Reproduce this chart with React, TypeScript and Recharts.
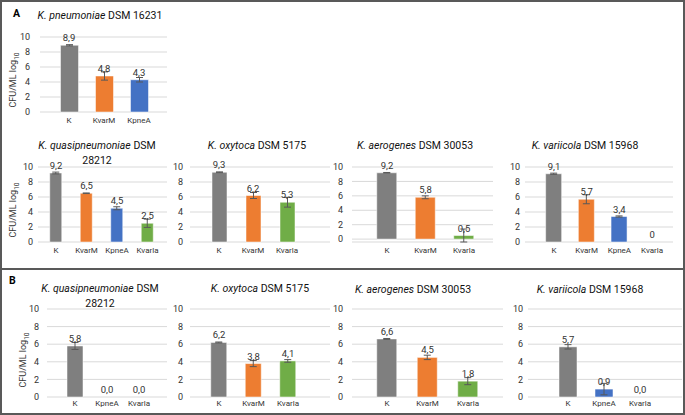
import React from "react";
import {
  ComposedChart,
  Bar,
  Line,
  XAxis,
  YAxis,
  CartesianGrid,
  Cell,
  ErrorBar,
  LabelList,
} from "recharts";

// strain colours (Excel defaults)
const strainColors: Record<string, string> = {
  K: "#7f7f7f",
  KvarM: "#ed7d31",
  KpneA: "#4472c4",
  Kvarla: "#70ad47",
};
const yTicks = [0, 2, 4, 6, 8, 10];

// panel A
const aPneuCats = ["K", "KvarM", "KpneA"];
const aPneuVals = [8.9, 4.8, 4.3];
const aPneuErr = [0.08, 0.55, 0.3];
const aPneuLabels = ["8,9", "4,8", "4,3"];

const aQuasiCats = ["K", "KvarM", "KpneA", "Kvarla"];
const aQuasiVals = [9.2, 6.5, 4.5, 2.5];
const aQuasiErr = [0.12, 0.04, 0.2, 0.55];
const aQuasiLabels = ["9,2", "6,5", "4,5", "2,5"];

const aOxyCats = ["K", "KvarM", "Kvarla"];
const aOxyVals = [9.3, 6.2, 5.3];
const aOxyErr = [0.05, 0.4, 0.65];
const aOxyLabels = ["9,3", "6,2", "5,3"];

const aAeroCats = ["K", "KvarM", "Kvarla"];
const aAeroVals = [9.2, 5.8, 0.5];
const aAeroErr = [0.04, 0.2, 0.9];
const aAeroLabels = ["9,2", "5,8", "0,5"];

const aVariCats = ["K", "KvarM", "KpneA", "Kvarla"];
const aVariVals = [9.1, 5.7, 3.4, 0];
const aVariErr = [0.08, 0.6, 0.08, 0];
const aVariLabels = ["9,1", "5,7", "3,4", "0"];

// panel B
const bQuasiCats = ["K", "KpneA", "Kvarla"];
const bQuasiVals = [5.8, 0, 0];
const bQuasiErr = [0.4, 0, 0];
const bQuasiLabels = ["5,8", "0,0", "0,0"];

const bOxyCats = ["K", "KvarM", "Kvarla"];
const bOxyVals = [6.2, 3.8, 4.1];
const bOxyErr = [0.05, 0.35, 0.15];
const bOxyLabels = ["6,2", "3,8", "4,1"];

const bAeroCats = ["K", "KvarM", "Kvarla"];
const bAeroVals = [6.6, 4.5, 1.8];
const bAeroErr = [0.05, 0.25, 0.4];
const bAeroLabels = ["6,6", "4,5", "1,8"];

const bVariCats = ["K", "KpneA", "Kvarla"];
const bVariVals = [5.7, 0.9, 0];
const bVariErr = [0.25, 0.65, 0];
const bVariLabels = ["5,7", "0,9", "0,0"];

const FONT = "Roboto, sans-serif";
const TEXT = "#333333";

function buildRows(cats: string[], vals: number[], errs: number[], labels: string[]) {
  return cats.map((c, i) => ({ name: c, value: vals[i], err: errs[i], label: labels[i] }));
}

type Layout = {
  x0: number; // gridline start
  x1: number; // gridline end
  yTop: number; // y of 10
  yBot: number; // y of 0
  tickRight: number;
  c0: number; // first category centre
  step: number;
  barSize: number;
  labelGap: number;
};

function SmallChart({ rows, lay }: { rows: any[]; lay: Layout }) {
  const yw = 30;
  const top = 12;
  const xh = 18;
  const n = rows.length;
  const pl = Math.max(0, lay.c0 - lay.step / 2 - lay.x0);
  const pr = Math.max(0, lay.x1 - (lay.x0 + pl + n * lay.step));
  const w = yw + (lay.x1 - lay.x0);
  const h = top + (lay.yBot - lay.yTop) + xh;
  return (
    <div style={{ position: "absolute", left: lay.x0 - yw, top: lay.yTop - top }}>
      <ComposedChart
        width={w}
        height={h}
        data={rows}
        margin={{ top, right: 0, bottom: 0, left: 0 }}
        barCategoryGap={0}
      >
        <CartesianGrid vertical={false} stroke="#d9d9d9" />
        <XAxis
          dataKey="name"
          axisLine={false}
          tickLine={false}
          tickSize={0}
          tickMargin={lay.labelGap}
          height={xh}
          interval={0}
          padding={{ left: pl, right: pr }}
          tick={{ fontSize: 8, fill: TEXT, fontFamily: FONT }}
        />
        <YAxis
          width={yw}
          domain={[0, 10]}
          ticks={yTicks}
          interval={0}
          axisLine={false}
          tickLine={false}
          tickSize={0}
          tickMargin={lay.x0 - lay.tickRight}
          tick={{ fontSize: 9, fill: TEXT, fontFamily: FONT }}
        />
        <Bar dataKey="value" barSize={lay.barSize} isAnimationActive={false}>
          {rows.map((r) => (
            <Cell key={r.name} fill={strainColors[r.name]} stroke="#ffffff" strokeOpacity={0.5} />
          ))}
          <ErrorBar dataKey="err" width={3.5} stroke="#595959" strokeWidth={1} direction="y" />
        </Bar>
        {/* invisible line only carries the value labels, so zero bars get one too */}
        <Line
          dataKey="value"
          stroke="none"
          dot={false}
          activeDot={false}
          isAnimationActive={false}
        >
          <LabelList
            dataKey="label"
            position="top"
            offset={4}
            style={{ fontSize: 9.5, fill: TEXT, fontFamily: FONT }}
          />
        </Line>
      </ComposedChart>
    </div>
  );
}

function Title({ cx, y, species, rest, line2 }: { cx: number; y: number; species: string; rest: string; line2?: string }) {
  return (
    <div
      style={{
        position: "absolute",
        left: cx - 100,
        top: y - 7.5,
        width: 200,
        textAlign: "center",
        fontFamily: FONT,
        fontSize: 10.5,
        lineHeight: "15px",
        color: "#111",
        whiteSpace: "nowrap",
      }}
    >
      <i>{species}</i> {rest}
      {line2 ? <div>{line2}</div> : null}
    </div>
  );
}

function YLabel({ cx, cy }: { cx: number; cy: number }) {
  return (
    <div
      style={{
        position: "absolute",
        left: cx - 50,
        top: cy - 7,
        width: 100,
        height: 14,
        textAlign: "center",
        transform: "rotate(-90deg)",
        fontFamily: FONT,
        fontSize: 9,
        lineHeight: "14px",
        color: TEXT,
        whiteSpace: "nowrap",
      }}
    >
      CFU/ML log<sub style={{ fontSize: 6.5 }}>10</sub>
    </div>
  );
}

export default function App() {
  return (
    <div
      style={{
        position: "absolute",
        left: 0,
        top: 0,
        width: 685,
        height: 415,
        background: "#fff",
        overflow: "hidden",
      }}
    >
      <div
        style={{
          position: "absolute",
          left: 0,
          top: 0,
          width: 681,
          height: 411,
          border: "2px solid #595959",
        }}
      />
      <div style={{ position: "absolute", left: 0, top: 268, width: 685, height: 2, background: "#595959" }} />

      <div style={{ position: "absolute", left: 13, top: 8, fontFamily: FONT, fontWeight: 700, fontSize: 10.5, lineHeight: "12px" }}>A</div>
      <div style={{ position: "absolute", left: 9, top: 275, fontFamily: FONT, fontWeight: 700, fontSize: 10.5, lineHeight: "12px" }}>B</div>

      <Title cx={100} y={15} species="K. pneumoniae" rest="DSM 16231" />
      <Title cx={97} y={145} species="K. quasipneumoniae" rest="DSM" line2="28212" />
      <Title cx={257} y={145} species="K. oxytoca" rest="DSM 5175" />
      <Title cx={415} y={145} species="K. aerogenes" rest="DSM 30053" />
      <Title cx={585} y={145} species="K. variicola" rest="DSM 15968" />

      <Title cx={100} y={288} species="K. quasipneumoniae" rest="DSM" line2="28212" />
      <Title cx={260} y={288} species="K. oxytoca" rest="DSM 5175" />
      <Title cx={413} y={289} species="K. aerogenes" rest="DSM 30053" />
      <Title cx={590} y={289} species="K. variicola" rest="DSM 15968" />

      <YLabel cx={13} cy={80} />
      <YLabel cx={13} cy={210} />
      <YLabel cx={23} cy={360} />

      <SmallChart
        rows={buildRows(aPneuCats, aPneuVals, aPneuErr, aPneuLabels)}
        lay={{ x0: 40, x1: 167, yTop: 37, yBot: 112, tickRight: 30, c0: 69, step: 35, barSize: 18, labelGap: 5 }}
      />
      <SmallChart
        rows={buildRows(aQuasiCats, aQuasiVals, aQuasiErr, aQuasiLabels)}
        lay={{ x0: 38, x1: 167, yTop: 167, yBot: 242, tickRight: 33, c0: 56, step: 30.5, barSize: 12, labelGap: 5 }}
      />
      <SmallChart
        rows={buildRows(aOxyCats, aOxyVals, aOxyErr, aOxyLabels)}
        lay={{ x0: 190, x1: 330, yTop: 167, yBot: 242, tickRight: 183, c0: 219, step: 34, barSize: 15, labelGap: 5 }}
      />
      <SmallChart
        rows={buildRows(aAeroCats, aAeroVals, aAeroErr, aAeroLabels)}
        lay={{ x0: 352, x1: 493, yTop: 167, yBot: 242, tickRight: 343, c0: 387, step: 38.5, barSize: 20, labelGap: 5 }}
      />
      <SmallChart
        rows={buildRows(aVariCats, aVariVals, aVariErr, aVariLabels)}
        lay={{ x0: 525, x1: 673, yTop: 167, yBot: 242, tickRight: 520, c0: 554, step: 32.7, barSize: 16, labelGap: 5 }}
      />

      <SmallChart
        rows={buildRows(bQuasiCats, bQuasiVals, bQuasiErr, bQuasiLabels)}
        lay={{ x0: 47, x1: 167, yTop: 309, yBot: 397, tickRight: 39, c0: 75, step: 32, barSize: 16, labelGap: 3 }}
      />
      <SmallChart
        rows={buildRows(bOxyCats, bOxyVals, bOxyErr, bOxyLabels)}
        lay={{ x0: 190, x1: 330, yTop: 309, yBot: 397, tickRight: 183, c0: 219, step: 34.5, barSize: 16, labelGap: 3 }}
      />
      <SmallChart
        rows={buildRows(bAeroCats, bAeroVals, bAeroErr, bAeroLabels)}
        lay={{ x0: 352, x1: 503, yTop: 309, yBot: 397, tickRight: 343, c0: 387, step: 40.5, barSize: 20, labelGap: 3 }}
      />
      <SmallChart
        rows={buildRows(bVariCats, bVariVals, bVariErr, bVariLabels)}
        lay={{ x0: 528, x1: 682, yTop: 309, yBot: 397, tickRight: 523, c0: 568, step: 36, barSize: 18, labelGap: 3 }}
      />
    </div>
  );
}
